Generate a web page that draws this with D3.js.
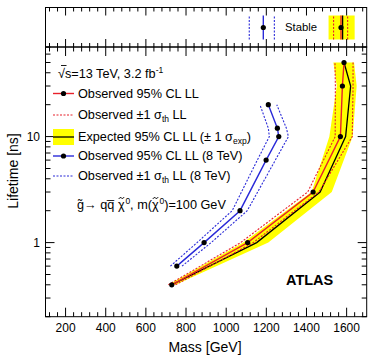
<!DOCTYPE html>
<html><head><meta charset="utf-8">
<script src="https://cdn.jsdelivr.net/npm/d3@7/dist/d3.min.js"></script>
<style>body{margin:0;background:#fff}text{font-family:"Liberation Sans",Arial,Helvetica,sans-serif;fill:#000}</style>
</head><body><svg id="c" width="369" height="357"></svg>
<script>
// ---- data (13 TeV, long-lived gluino) ----
const lifetimes   = [0.4, 1, 3, 10, 30, 50];
const obsMass     = [729, 1107, 1433, 1569, 1579, 1587];
const obsThDown   = [712, 1072, 1406, 1543, 1544, 1542];
const obsThUp     = [748, 1135, 1462, 1628, 1632, 1632];
const expMass     = [729, 1152, 1468, 1595, 1620, 1587];
const expDown     = [712, 1085, 1426, 1514, 1551, 1534];
const expUp       = [748, 1210, 1526, 1630, 1650, 1637];
// ---- 8 TeV ----
const lifetimes8  = [0.6, 1, 2, 6, 10, 12, 20];
const obsMass8    = [754, 890, 1069, 1199, 1262, 1255, 1210];
const obsThDown8  = [722, 855, 1030, 1155, 1215, 1210, 1168];
const obsThUp8    = [780, 925, 1105, 1245, 1310, 1300, 1252];
// ---- stable (top panel) ----
const stableLabels = ["obs", "thDown", "thUp", "exp", "expDown", "expUp"];
const stable13     = [1572, 1535, 1605, 1580, 1510, 1640];
const stable8      = [1185, 1115, 1240];
// ---- ticks ----
const xTickLabels = [200, 400, 600, 800, 1000, 1200, 1400, 1600];
const yTickLabels = [1, 10];

const svg = d3.select("#c");
const L = 45.5, R = 366.7, T = 7.5, S = 47, B = 316.7;
const x = d3.scaleLinear().domain([100, 1700]).range([L, R]);
const y = d3.scaleLog().domain([0.2, 70]).range([B, S]);
const yTop = d3.scaleLinear().domain([0, 1]).range([39.5, 15.5]);

const RED = "#e8202a", BLUE = "#2a2ad8", YEL = "#ffff00";

svg.append("clipPath").attr("id","mc").append("rect").attr("x",L).attr("y",S).attr("width",R-L).attr("height",B-S);
const g = svg.append("g").attr("clip-path","url(#mc)");

const bandPts = lifetimes.map((t,i)=>[x(expUp[i]), y(t)])
  .concat(lifetimes.map((t,i)=>[x(expDown[i]), y(t)]).reverse());
g.append("path").attr("d", d3.line()(bandPts) + "Z").attr("fill", YEL).attr("stroke","none");

const line = d3.line();
function curve(ms, ts, color, dash, w){
  g.append("path").attr("d", line(ts.map((t,i)=>[x(ms[i]), y(t)])))
   .attr("fill","none").attr("stroke",color).attr("stroke-width",w)
   .attr("stroke-dasharray", dash || null);
}
curve(expMass, lifetimes, "#000", null, 1.3);
curve(obsThDown, lifetimes, RED, "2,1.5", 1.1);
curve(obsThUp, lifetimes, RED, "2,1.5", 1.1);
curve(obsMass, lifetimes, RED, null, 1.4);
curve(obsThDown8, lifetimes8, BLUE, "2,1.5", 1.1);
curve(obsThUp8, lifetimes8, BLUE, "2,1.5", 1.1);
curve(obsMass8, lifetimes8, BLUE, null, 1.4);
g.selectAll("c.o").data(lifetimes).enter().append("circle")
  .attr("cx",(t,i)=>x(obsMass[i])).attr("cy",t=>y(t)).attr("r",2.6).attr("fill","#000");
g.selectAll("c.b").data(lifetimes8).enter().append("circle")
  .attr("cx",(t,i)=>x(obsMass8[i])).attr("cy",t=>y(t)).attr("r",2.6).attr("fill","#000");

const tp = svg.append("g");
tp.append("rect").attr("x",x(stable13[4])).attr("width",x(stable13[5])-x(stable13[4]))
  .attr("y",yTop(1)).attr("height",yTop(0)-yTop(1)).attr("fill",YEL);
function vline(m, color, dash, w){
  tp.append("line").attr("x1",x(m)).attr("x2",x(m)).attr("y1",yTop(0)).attr("y2",yTop(1))
    .attr("stroke",color).attr("stroke-width",w).attr("stroke-dasharray",dash||null);
}
vline(stable13[3], "#000", null, 1.3);
vline(stable13[1], RED, "2,1.5", 1.1);
vline(stable13[2], RED, "2,1.5", 1.1);
vline(stable13[0], RED, null, 1.4);
vline(stable8[1], BLUE, "2,1.5", 1.1);
vline(stable8[2], BLUE, "2,1.5", 1.1);
vline(stable8[0], BLUE, null, 1.4);
tp.append("circle").attr("cx",x(stable13[0])).attr("cy",yTop(0.5)).attr("r",2.6).attr("fill","#000");
tp.append("circle").attr("cx",x(stable8[0])).attr("cy",yTop(0.5)).attr("r",2.6).attr("fill","#000");
tp.append("text").attr("x",285).attr("y",31).attr("font-size",11.3).text("Stable");

const fr = svg.append("g").attr("fill","none").attr("stroke","#000").attr("stroke-width",1);
fr.append("rect").attr("x",L).attr("y",T).attr("width",R-L).attr("height",S-T);
fr.append("rect").attr("x",L).attr("y",S).attr("width",R-L).attr("height",B-S);

const minorX = d3.range(120, 1700, 40).filter(v=>v%200!==0);
const majorX = d3.range(200, 1700, 200);
function xt(vals, y0, len){
  fr.selectAll(null).data(vals).enter().append("line")
    .attr("x1",d=>x(d)).attr("x2",d=>x(d)).attr("y1",y0).attr("y2",y0+len);
}
xt(majorX, B, -9); xt(minorX, B, -4.5);
xt(majorX, S, 9); xt(minorX, S, 4.5);
xt(majorX, S, -8); xt(minorX, S, -4);
xt(majorX, T, 8); xt(minorX, T, 4);

const minorY = [0.2,0.3,0.4,0.5,0.6,0.7,0.8,0.9,2,3,4,5,6,7,8,9,20,30,40,50,60,70];
function yt(vals, x0, len){
  fr.selectAll(null).data(vals).enter().append("line")
    .attr("y1",d=>y(d)).attr("y2",d=>y(d)).attr("x1",x0).attr("x2",x0+len);
}
yt(yTickLabels, L, 9); yt(minorY, L, 5);
yt(yTickLabels, R, -9); yt(minorY, R, -5);

svg.selectAll(null).data(xTickLabels).enter().append("text")
  .attr("x",d=>x(d)).attr("y",332).attr("text-anchor","middle").attr("font-size",12).text(d=>d);
svg.selectAll(null).data(yTickLabels).enter().append("text")
  .attr("x",40).attr("y",d=>y(d)+4.5).attr("text-anchor","end").attr("font-size",12).text(d=>d);

svg.append("text").attr("x",205).attr("y",352).attr("text-anchor","middle").attr("font-size",14).text("Mass [GeV]");
svg.append("text").attr("transform","translate(18,171) rotate(-90)").attr("text-anchor","middle")
  .attr("font-size",14).text("Lifetime [ns]");

svg.append("text").attr("x",286).attr("y",285).attr("font-size",14.5).attr("font-weight","bold").text("ATLAS");

const lg = svg.append("g");
const fs = 12.7;
let t0 = lg.append("text").attr("x",58).attr("y",78).attr("font-size",fs);
t0.append("tspan").text("√s=13 TeV, 3.2 fb");
t0.append("tspan").attr("dy",-5).attr("font-size",8.5).text("-1");
lg.append("line").attr("x1",61).attr("x2",66.5).attr("y1",65.5).attr("y2",65.5).attr("stroke","#000").attr("stroke-width",0.9);

const lx0 = 53, lx1 = 74, tx = 78;
const rows = [97.5, 119, 141, 160, 180];
lg.append("line").attr("x1",lx0).attr("x2",lx1).attr("y1",rows[0]-4).attr("y2",rows[0]-4).attr("stroke",RED).attr("stroke-width",1.4);
lg.append("circle").attr("cx",(lx0+lx1)/2).attr("cy",rows[0]-4).attr("r",2.6).attr("fill","#000");
lg.append("text").attr("x",tx).attr("y",rows[0]).attr("font-size",fs).text("Observed 95% CL LL");
lg.append("line").attr("x1",lx0).attr("x2",lx1).attr("y1",rows[1]-4).attr("y2",rows[1]-4).attr("stroke",RED).attr("stroke-width",1.1).attr("stroke-dasharray","2,1.5");
let t2 = lg.append("text").attr("x",tx).attr("y",rows[1]).attr("font-size",fs);
t2.append("tspan").text("Observed ±1 σ");
t2.append("tspan").attr("dy",3).attr("font-size",8.5).text("th");
t2.append("tspan").attr("dy",-3).text(" LL");
lg.append("rect").attr("x",lx0).attr("y",rows[2]-12).attr("width",lx1-lx0).attr("height",16).attr("fill",YEL);
lg.append("line").attr("x1",lx0).attr("x2",lx1).attr("y1",rows[2]-4).attr("y2",rows[2]-4).attr("stroke","#000").attr("stroke-width",1.3);
let t3 = lg.append("text").attr("x",tx).attr("y",rows[2]).attr("font-size",fs);
t3.append("tspan").text("Expected 95% CL LL (± 1 σ");
t3.append("tspan").attr("dy",3).attr("font-size",8.5).text("exp");
t3.append("tspan").attr("dy",-3).text(")");
lg.append("line").attr("x1",lx0).attr("x2",lx1).attr("y1",rows[3]-4).attr("y2",rows[3]-4).attr("stroke",BLUE).attr("stroke-width",1.4);
lg.append("circle").attr("cx",(lx0+lx1)/2).attr("cy",rows[3]-4).attr("r",2.6).attr("fill","#000");
lg.append("text").attr("x",tx).attr("y",rows[3]).attr("font-size",fs).text("Observed 95% CL LL (8 TeV)");
lg.append("line").attr("x1",lx0).attr("x2",lx1).attr("y1",rows[4]-4).attr("y2",rows[4]-4).attr("stroke",BLUE).attr("stroke-width",1.1).attr("stroke-dasharray","2,1.5");
let t5 = lg.append("text").attr("x",tx).attr("y",rows[4]).attr("font-size",fs);
t5.append("tspan").text("Observed ±1 σ");
t5.append("tspan").attr("dy",3).attr("font-size",8.5).text("th");
t5.append("tspan").attr("dy",-3).text(" LL (8 TeV)");
// process line; tildes over chi drawn as small paths
const procY = 209;
let t6 = lg.append("text").attr("x",77).attr("y",procY).attr("font-size",fs);
const chis = [];
function chi0(t){
  chis.push(t.append("tspan").text("\u03C7"));
  t.append("tspan").attr("dx",0.8).attr("dy",-5).attr("font-size",8.5).text("0");
}
t6.append("tspan").text("g\u0303\u2192 qq\u0305 ");
chi0(t6);
t6.append("tspan").attr("dy",5).text(", m(");
chi0(t6);
t6.append("tspan").attr("dy",5).text(")=100 GeV");
chis.forEach(c=>{
  const n = c.node();
  const p0 = n.getStartPositionOfChar(0), p1 = n.getEndPositionOfChar(0);
  const x0 = p0.x + 0.8, w = (p1.x - p0.x) - 1.2, yy = procY - 11;
  lg.append("path")
    .attr("d", `M${x0},${yy+1} Q${x0+w/4},${yy-1.6} ${x0+w/2},${yy} T${x0+w},${yy-1}`)
    .attr("fill","none").attr("stroke","#000").attr("stroke-width",0.9);
});
</script></body></html>
